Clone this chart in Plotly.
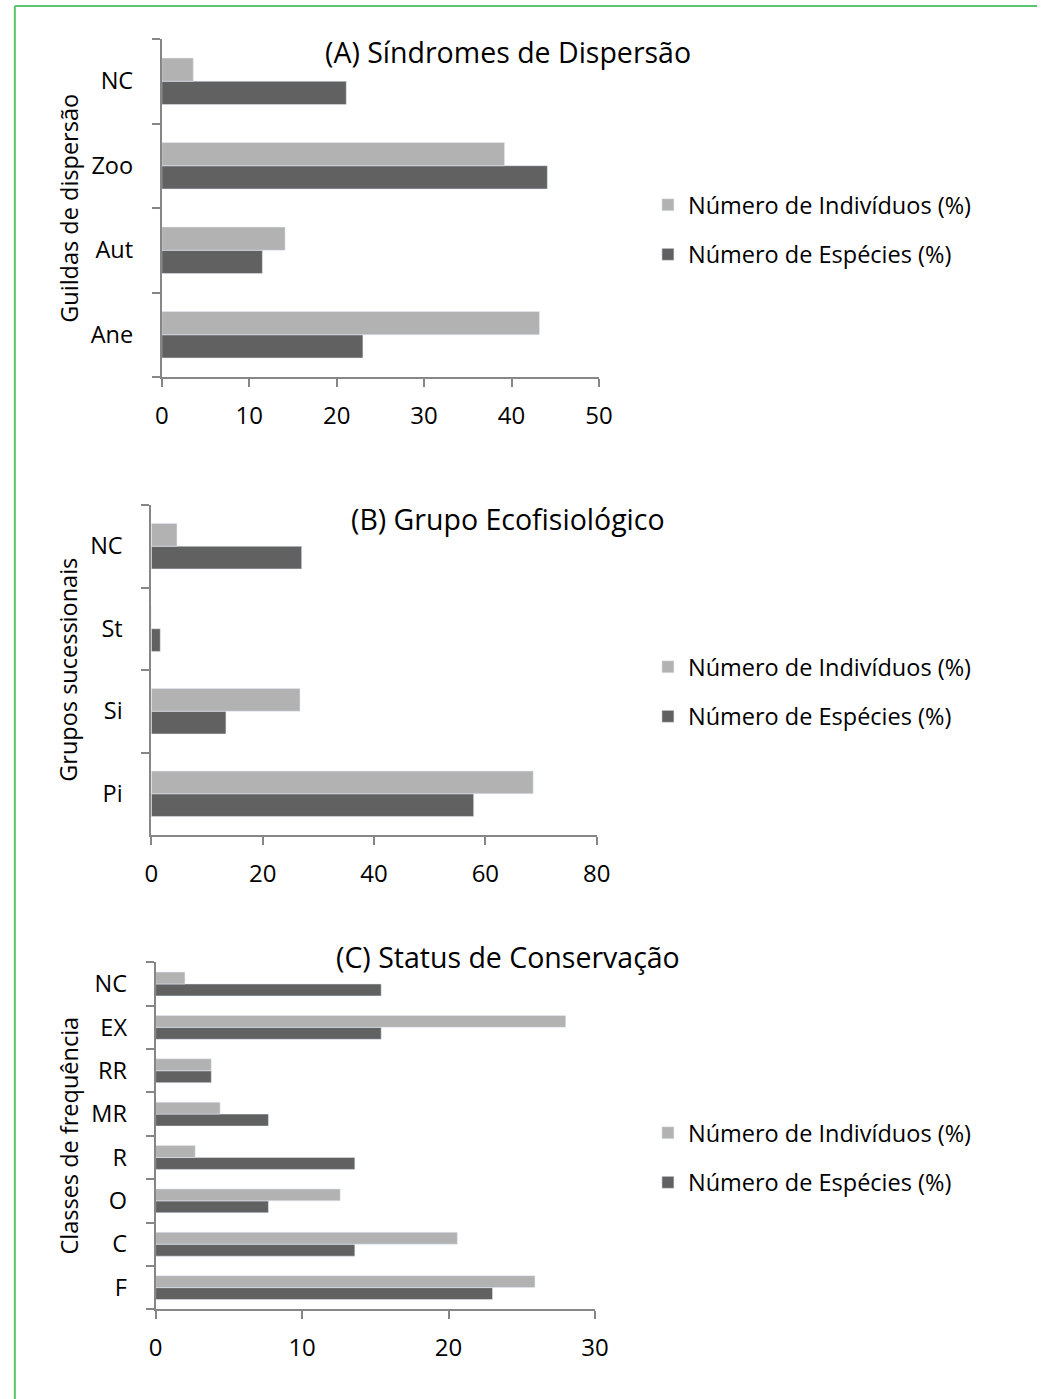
import plotly.graph_objects as go

W, H = 1051, 1399

# ---- data -------------------------------------------------------------
series_names = ["Número de Indivíduos (%)", "Número de Espécies (%)"]

a_cats = ["Ane", "Aut", "Zoo", "NC"]
a_ind = [43.2, 14.1, 39.2, 3.6]
a_esp = [23.0, 11.5, 44.1, 21.1]

b_cats = ["Pi", "Si", "St", "NC"]
b_ind = [68.6, 26.7, 0.0, 4.6]
b_esp = [57.9, 13.4, 1.6, 27.0]

c_cats = ["F", "C", "O", "R", "MR", "RR", "EX", "NC"]
c_ind = [25.9, 20.6, 12.6, 2.7, 4.4, 3.8, 28.0, 2.0]
c_esp = [23.0, 13.6, 7.7, 13.6, 7.7, 3.8, 15.4, 15.4]

a_ticks = [0, 10, 20, 30, 40, 50]
b_ticks = [0, 20, 40, 60, 80]
c_ticks = [0, 10, 20, 30]

titles = ["(A) Síndromes de Dispersão", "(B) Grupo Ecofisiológico",
          "(C) Status de Conservação"]
ytitles = ["Guildas de dispersão", "Grupos sucessionais", "Classes de frequência"]

# ---- styling ----------------------------------------------------------
FONT = "Open Sans"
LIGHT = "#b2b2b2"
DARK = "#616161"
AXIS = "#868686"
FRAME = "#5ac46e"


def fx(px):
    return px / W


def fy(py):
    return 1 - py / H


panels = [
    dict(cats=a_cats, ind=a_ind, esp=a_esp, ticks=a_ticks,
         xdom=(158, 604), ydom=(39, 377), title_y=52, ytitle_x=63,
         leg_top=183),
    dict(cats=b_cats, ind=b_ind, esp=b_esp, ticks=b_ticks,
         xdom=(147.3, 601.7), ydom=(505, 835), title_y=519, ytitle_x=62,
         leg_top=645),
    dict(cats=c_cats, ind=c_ind, esp=c_esp, ticks=c_ticks,
         xdom=(151.7, 600), ydom=(962.3, 1309.3), title_y=957, ytitle_x=63,
         leg_top=1111),
]

fig = go.Figure()
layout = dict(
    width=W, height=H, autosize=False,
    margin=dict(l=0, r=0, t=0, b=0),
    paper_bgcolor="white", plot_bgcolor="white",
    barmode="group", bargap=0.45, bargroupgap=0,
    font=dict(family=FONT, size=23, color="black"),
    annotations=[], shapes=[],
)

for i, p in enumerate(panels):
    n = "" if i == 0 else str(i + 1)
    xa, ya, lg = "x" + n, "y" + n, "legend" + n
    # Espécies first so it sits below Indivíduos inside each category
    fig.add_trace(go.Bar(
        y=p["cats"], x=p["esp"], orientation="h", name=series_names[1],
        marker=dict(color=DARK), xaxis=xa, yaxis=ya, legend=lg,
        legendgroup="esp" + n, legendrank=2))
    fig.add_trace(go.Bar(
        y=p["cats"], x=p["ind"], orientation="h", name=series_names[0],
        marker=dict(color=LIGHT), xaxis=xa, yaxis=ya, legend=lg,
        legendgroup="ind" + n, legendrank=1))

    layout["xaxis" + n] = dict(
        domain=[fx(p["xdom"][0]), fx(p["xdom"][1])], anchor=ya,
        range=[p["ticks"][0], p["ticks"][-1]], tickvals=p["ticks"],
        showgrid=False, zeroline=False, showline=True, linecolor=AXIS,
        linewidth=2, ticks="outside", ticklen=8, tickwidth=1.5,
        tickcolor=AXIS, ticklabelstandoff=8,
        tickfont=dict(size=24, family=FONT))
    layout["yaxis" + n] = dict(
        domain=[fy(p["ydom"][1]), fy(p["ydom"][0])], anchor=xa,
        type="category", categoryorder="array", categoryarray=p["cats"],
        range=[-0.5, len(p["cats"]) - 0.5],
        showgrid=False, zeroline=False, showline=True, linecolor=AXIS,
        linewidth=2, ticks="outside", ticklen=8, tickwidth=1.5,
        tickcolor=AXIS, tickson="boundaries", ticklabelstandoff=22,
        tickfont=dict(size=23.5, family=FONT))
    layout[lg] = dict(
        x=fx(654), y=fy(p["leg_top"]), xanchor="left", yanchor="top",
        traceorder="grouped", tracegroupgap=16,
        bgcolor="rgba(0,0,0,0)", font=dict(size=23.5, family=FONT))

    layout["annotations"].append(dict(
        text=titles[i], xref="paper", yref="paper",
        x=fx(511), y=fy(p["title_y"]), xanchor="center", yanchor="middle",
        showarrow=False, font=dict(size=28.5, family=FONT)))
    layout["annotations"].append(dict(
        text=ytitles[i], xref="paper", yref="paper", textangle=-90,
        x=fx(p["ytitle_x"]), y=fy((p["ydom"][0] + p["ydom"][1]) / 2),
        xanchor="center", yanchor="middle", showarrow=False,
        font=dict(size=23.5, family=FONT)))

# green frame: top and left edges (the other edges fall outside the page)
layout["shapes"].append(dict(
    type="line", xref="paper", yref="paper",
    x0=fx(8), y0=fy(6), x1=1, y1=fy(6),
    line=dict(color=FRAME, width=2)))
layout["shapes"].append(dict(
    type="line", xref="paper", yref="paper",
    x0=fx(8), y0=fy(6), x1=fx(8), y1=0,
    line=dict(color=FRAME, width=2)))

fig.update_layout(**layout)
fig.write_html("out.html", config={"responsive": False})
